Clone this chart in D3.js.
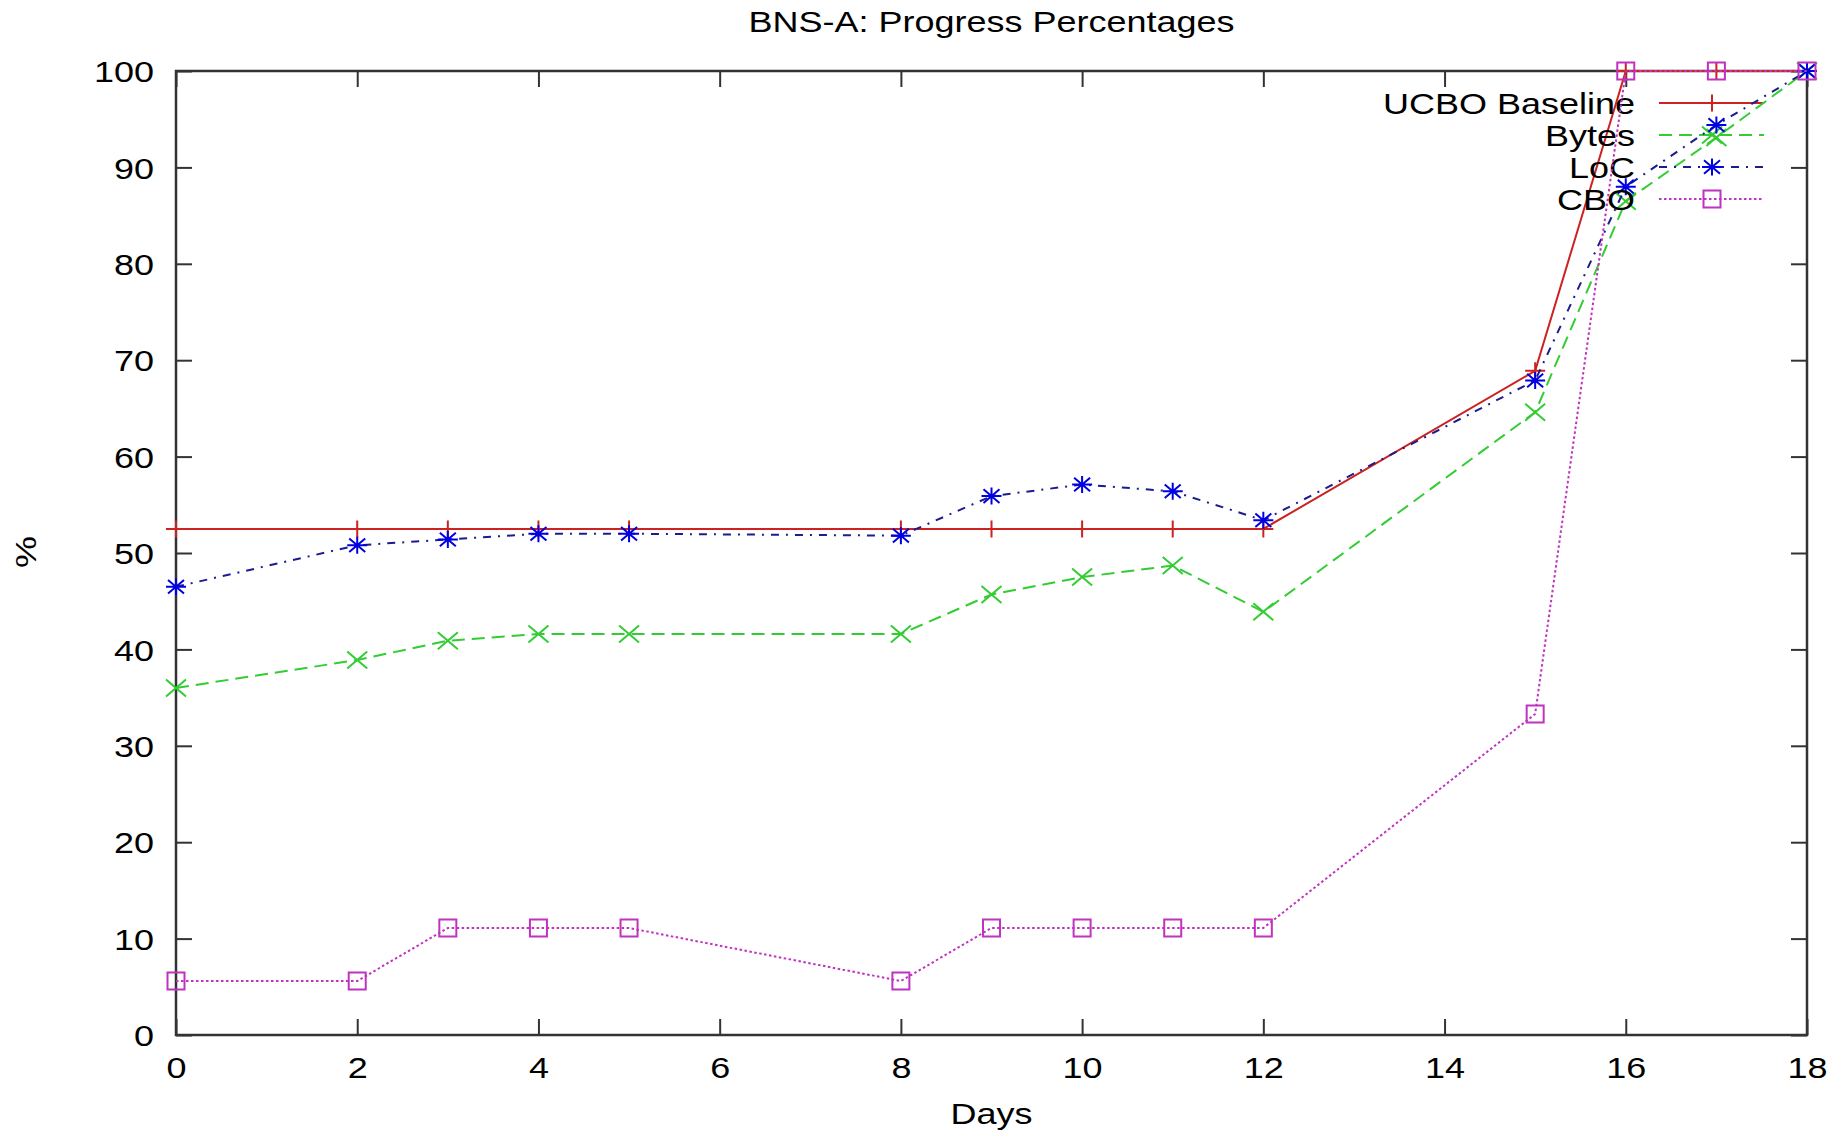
<!DOCTYPE html>
<html>
<head>
<meta charset="utf-8">
<script src="https://cdn.jsdelivr.net/npm/d3@7"></script>
<style>
  body { margin: 0; background: #fff; }
  svg text { font-family: "Liberation Sans", Arial, sans-serif; fill: #000; }
</style>
</head>
<body>
<svg id="chart"></svg>
<script>
// Values
const days = [0, 2, 3, 4, 5, 8, 9, 10, 11, 12, 15, 16, 17, 18];
const ucboBaseline = [52.5, 52.5, 52.5, 52.5, 52.5, 52.5, 52.5, 52.5, 52.5, 52.5, 68.9, 100, 100, 100];
const bytes = [36.0, 38.9, 40.9, 41.6, 41.6, 41.6, 45.7, 47.5, 48.7, 43.9, 64.6, 86.5, 93.1, 100];
const loc = [46.5, 50.8, 51.4, 52.0, 52.0, 51.8, 55.9, 57.1, 56.4, 53.4, 67.9, 88.0, 94.4, 100];
const cbo = [5.6, 5.6, 11.1, 11.1, 11.1, 5.6, 11.1, 11.1, 11.1, 11.1, 33.3, 100, 100, 100];

const seriesNames = ["UCBO Baseline", "Bytes", "LoC", "CBO"];
const xTicks = [0, 2, 4, 6, 8, 10, 12, 14, 16, 18];
const yTicks = [0, 10, 20, 30, 40, 50, 60, 70, 80, 90, 100];

function makeChart() {
    const width = 1842;
    const height = 1133;
    const stretch = 1.22;   // the original text is wider than it is tall
    const fontSize = 29.5;

    const svg = d3.select("#chart")
        .attr("width", width)
        .attr("height", height);

    const x = d3.scaleLinear().domain([0, 18]).range([176, 1807]);
    const y = d3.scaleLinear().domain([0, 100]).range([1035, 71]);

    // helper for stretched text labels
    function label(str, px, py, anchor, rotate) {
        const g = svg.append("g")
            .attr("transform", `translate(${px},${py})` + (rotate ? ` rotate(${rotate})` : "") + ` scale(${stretch},1)`);
        g.append("text")
            .attr("text-anchor", anchor)
            .style("font-size", fontSize + "px")
            .text(str);
    }

    // Axes with inward ticks on all four sides
    const tickLen = 16;
    function styleAxis(g) {
        g.select(".domain").remove();
        g.selectAll(".tick line").attr("stroke", "#333").attr("stroke-width", 2);
    }

    svg.append("g")
        .attr("transform", `translate(0,${y(0)})`)
        .call(d3.axisBottom(x).tickValues(xTicks).tickSize(-tickLen).tickFormat(d3.format("d")))
        .call(styleAxis)
        .call(g => g.selectAll("text")
            .attr("y", 43).attr("dy", 0)
            .attr("transform", `scale(${stretch},1)`)
            .style("font-size", fontSize + "px"));

    svg.append("g")
        .attr("transform", `translate(0,${y(100)})`)
        .call(d3.axisTop(x).tickValues(xTicks).tickSize(-tickLen).tickFormat(""))
        .call(styleAxis);

    svg.append("g")
        .attr("transform", `translate(${x(0)},0)`)
        .call(d3.axisLeft(y).tickValues(yTicks).tickSize(-tickLen).tickFormat(d3.format("d")))
        .call(styleAxis)
        .call(g => g.selectAll("text")
            .attr("x", 0).attr("dy", "0.36em")
            .attr("transform", `translate(-22,0) scale(${stretch},1)`)
            .style("font-size", fontSize + "px"));

    svg.append("g")
        .attr("transform", `translate(${x(18)},0)`)
        .call(d3.axisRight(y).tickValues(yTicks).tickSize(-tickLen).tickFormat(""))
        .call(styleAxis);

    // Plot border
    svg.append("rect")
        .attr("x", x(0)).attr("y", y(100))
        .attr("width", x(18) - x(0)).attr("height", y(0) - y(100))
        .attr("fill", "none")
        .attr("stroke", "#333")
        .attr("stroke-width", 2.5);

    // Titles
    label("BNS-A: Progress Percentages", (x(0) + x(18)) / 2, 32, "middle");
    label("Days", (x(0) + x(18)) / 2, 1124, "middle");
    label("%", 36, 552, "middle", -90);

    // Point symbols (gnuplot style)
    const sx = 10, sy = 8.5;
    const symbols = {
        plus: `M${-sx},0H${sx}M0,${-sy}V${sy}`,
        cross: `M${-sx},${-sy}L${sx},${sy}M${-sx},${sy}L${sx},${-sy}`,
        star: `M${-sx},0H${sx}M0,${-sy}V${sy}M${-sx * 0.8},${-sy * 0.8}L${sx * 0.8},${sy * 0.8}M${-sx * 0.8},${sy * 0.8}L${sx * 0.8},${-sy * 0.8}`,
        box: `M${-sx * 0.85},${-sy}H${sx * 0.85}V${sy}H${-sx * 0.85}Z`
    };

    const series = [
        { name: seriesNames[0], values: ucboBaseline, line: "#cc2222", mark: "#cc2222", dash: null, sym: "plus" },
        { name: seriesNames[1], values: bytes, line: "#33cc33", mark: "#33cc33", dash: "13,7", sym: "cross" },
        { name: seriesNames[2], values: loc, line: "#1c1c8c", mark: "#0000e0", dash: "8,7,2,7", sym: "star" },
        { name: seriesNames[3], values: cbo, line: "#c033c0", mark: "#c033c0", dash: "2.5,2.5", sym: "box" }
    ];

    const line = d3.line()
        .x(d => x(d[0]))
        .y(d => y(d[1]));

    series.forEach((s, i) => {
        const pts = days.map((d, j) => [d, s.values[j]]);

        svg.append("path")
            .datum(pts)
            .attr("d", line)
            .attr("fill", "none")
            .attr("stroke", s.line)
            .attr("stroke-width", 2)
            .attr("stroke-dasharray", s.dash);

        svg.append("g")
            .selectAll("path")
            .data(pts)
            .join("path")
            .attr("transform", d => `translate(${x(d[0])},${y(d[1])})`)
            .attr("d", symbols[s.sym])
            .attr("fill", "none")
            .attr("stroke", s.mark)
            .attr("stroke-width", 2);

        // Legend entry
        const ly = 103 + i * 32;
        label(s.name, 1635, ly + 10.6, "end");
        svg.append("line")
            .attr("x1", 1659).attr("x2", 1764)
            .attr("y1", ly).attr("y2", ly)
            .attr("stroke", s.line)
            .attr("stroke-width", 2)
            .attr("stroke-dasharray", s.dash);
        svg.append("path")
            .attr("transform", `translate(1712,${ly})`)
            .attr("d", symbols[s.sym])
            .attr("fill", "none")
            .attr("stroke", s.mark)
            .attr("stroke-width", 2);
    });
}

makeChart();
</script>
</body>
</html>
